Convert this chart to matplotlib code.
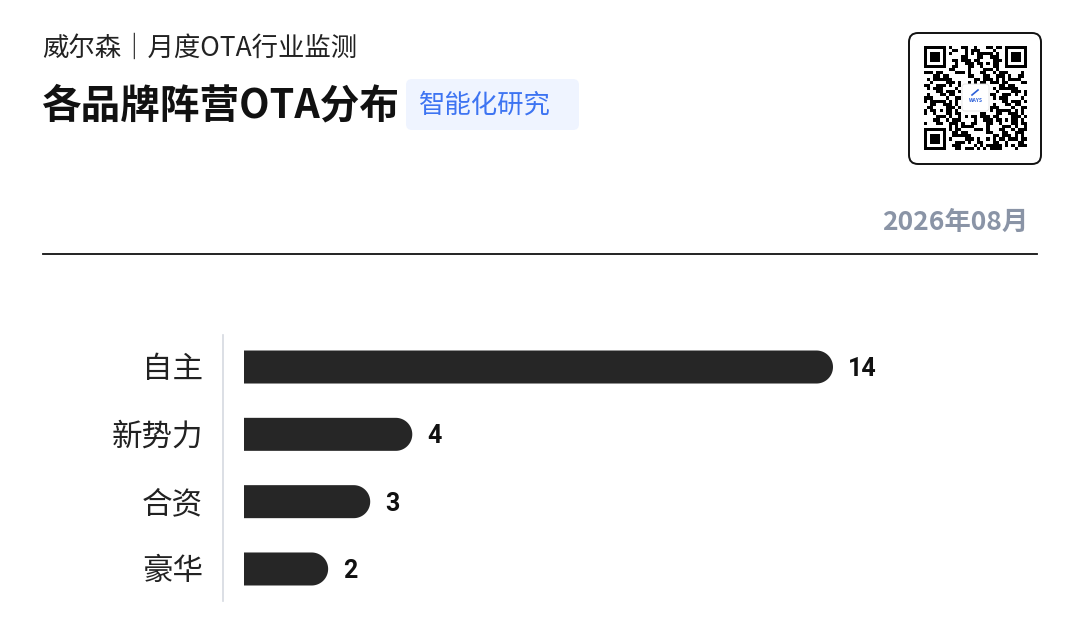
import matplotlib
matplotlib.use("Agg")
import matplotlib.pyplot as plt
import numpy as np
from matplotlib.patches import FancyBboxPatch

plt.rcParams['font.family'] = ['Noto Sans CJK SC', 'DejaVu Sans']

categories = ['自主', '新势力', '合资', '豪华']
values = [14, 4, 3, 2]
subtitle = '威尔森｜月度OTA行业监测'
title = '各品牌阵营OTA分布'
tag = '智能化研究'
date_label = '2026年08月'

W, H = 1080, 631
fig = plt.figure(figsize=(W / 100, H / 100), dpi=100)
fig.patch.set_facecolor('white')

# background layer in pixel coordinates
bg = fig.add_axes([0, 0, 1, 1])
bg.set_xlim(0, W)
bg.set_ylim(H, 0)
bg.axis('off')

bg.text(42, 48, subtitle, fontsize=19, color='#222222', va='center', ha='left')
bg.text(41, 106, title, fontsize=28.5, fontweight='bold', color='#111111', va='center', ha='left')

bg.add_patch(FancyBboxPatch((406, 79), 173, 51, boxstyle='round,pad=0,rounding_size=6',
                            fc='#EFF4FF', ec='none'))
bg.text(419, 105, tag, fontsize=19, color='#3D74F2', va='center', ha='left')

# QR-style badge
bg.add_patch(FancyBboxPatch((909, 33), 132, 131, boxstyle='round,pad=0,rounding_size=9',
                            fc='white', ec='#111111', lw=1.4))
n = 33
qr = np.zeros((n, n))
seed = 'https://www.ways.com.cn/ota-monthly'
bits = ''.join(format(ord(c), '08b') for c in seed * 40)
k = 0
for i in range(n):
    for j in range(n):
        qr[i, j] = int(bits[(k * 7) % len(bits)]) ^ ((i * j) % 3 == 0)
        k += 1
def finder(r, c):
    qr[r:r + 7, c:c + 7] = 1
    qr[r + 1:r + 6, c + 1:c + 6] = 0
    qr[r + 2:r + 5, c + 2:c + 5] = 1
qr[0:8, 0:8] = 0
finder(0, 0)
qr[0:8, n - 8:n] = 0
finder(0, n - 7)
qr[n - 8:n, 0:8] = 0
finder(n - 7, 0)
qr[12:21, 12:21] = 0
bg.imshow(qr, cmap='gray_r', interpolation='nearest', extent=(924, 1027, 150, 46), zorder=2)
bg.add_patch(FancyBboxPatch((962, 84), 27, 27, boxstyle='round,pad=0,rounding_size=3',
                            fc='white', ec='#e2e2e2', lw=0.6, zorder=3))
bg.text(975.5, 100, 'WAYS', fontsize=3.6, color='#2B5FD9', fontweight='bold',
        ha='center', va='center', zorder=4)
bg.plot([972, 978], [95, 90], color='#2B5FD9', lw=1.2, zorder=4)
bg.set_xlim(0, W)
bg.set_ylim(H, 0)
bg.set_aspect('auto')

bg.text(1028, 222, date_label, fontsize=19, fontweight='bold', color='#8A94A6',
        ha='right', va='center')
bg.plot([43, 1037], [254, 254], color='#111111', lw=1.3)
bg.plot([222.5, 222.5], [335, 601], color='#D5D9E0', lw=1.2)

# bar chart axes: left edge at bars' start
px_per_unit = (833 - 244) / 14
left, right, top, bottom = 244, 1037, 335, 601
ax = fig.add_axes([left / W, 1 - bottom / H, (right - left) / W, (bottom - top) / H])
ax.set_xlim(0, (right - left) / px_per_unit)
step = 67.3
ax.set_ylim(3 + (bottom - 569) / step, -(367 - top) / step)
ax.axis('off')

bar_px = 33
r = bar_px / 2 / px_per_unit
hh = bar_px / 2 / step
t = np.linspace(-np.pi / 2, np.pi / 2, 60)
ypos = np.arange(len(categories))
for y, v in zip(ypos, values):
    xs = np.concatenate([[0], v - r + r * np.cos(t), [0]])
    ys = np.concatenate([[y + hh], y + hh * np.sin(-t), [y - hh]])
    ax.fill(xs, ys, color='#262626', lw=0)

for y, v, c in zip(ypos, values, categories):
    ax.annotate(str(v), (v, y), xytext=(11, -1.5), textcoords='offset points',
                fontsize=18, fontweight='bold', color='#111111', va='center', ha='left',
                family=['Liberation Sans Narrow', 'Roboto', 'DejaVu Sans'])
    ax.annotate(c, (0, y), xytext=(-41 * 0.72, -2), textcoords='offset points',
                fontsize=22, color='#222222', va='center', ha='right',
                annotation_clip=False)

fig.savefig('out.png', dpi=100)
